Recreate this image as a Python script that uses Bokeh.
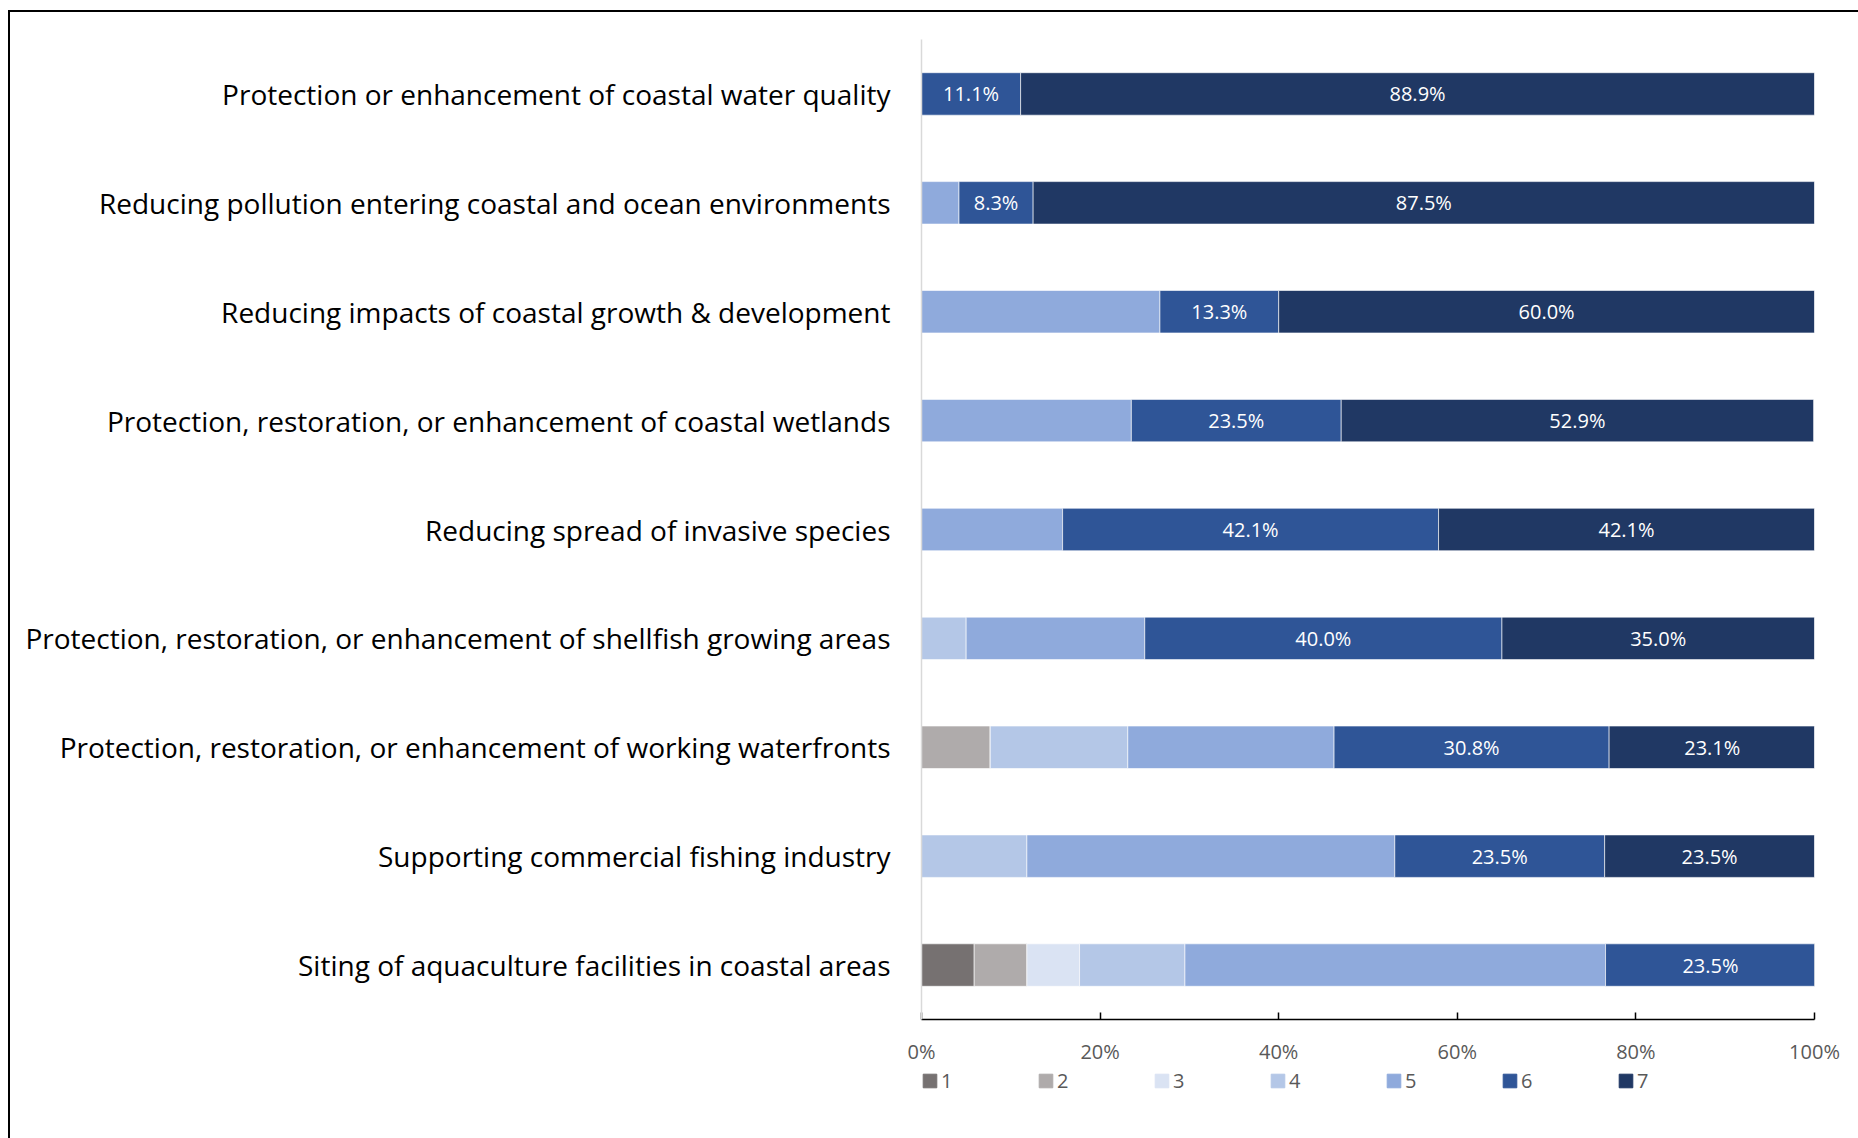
from bokeh.plotting import figure
from bokeh.layouts import column
from bokeh.models import (ColumnDataSource, FactorRange, Legend, LegendItem,
                          PrintfTickFormatter, FixedTicker, LabelSet)
from bokeh.core.properties import value
from bokeh.embed import file_html
from bokeh.resources import INLINE

categories = [
    "Protection or enhancement of coastal water quality",
    "Reducing pollution entering coastal and ocean environments",
    "Reducing impacts of coastal growth & development",
    "Protection, restoration, or enhancement of coastal wetlands",
    "Reducing spread of invasive species",
    "Protection, restoration, or enhancement of shellfish growing areas",
    "Protection, restoration, or enhancement of working waterfronts",
    "Supporting commercial fishing industry",
    "Siting of aquaculture facilities in coastal areas",
]
series_names = ["1", "2", "3", "4", "5", "6", "7"]
s1 = [0, 0, 0, 0, 0, 0, 0, 0, 5.9]
s2 = [0, 0, 0, 0, 0, 0, 7.7, 0, 5.9]
s3 = [0, 0, 0, 0, 0, 0, 0, 0, 5.9]
s4 = [0, 0, 0, 0, 0, 5.0, 15.4, 11.8, 11.8]
s5 = [0, 4.2, 26.7, 23.5, 15.8, 20.0, 23.1, 41.2, 47.1]
s6 = [11.1, 8.3, 13.3, 23.5, 42.1, 40.0, 30.8, 23.5, 23.5]
s7 = [88.9, 87.5, 60.0, 52.9, 42.1, 35.0, 23.1, 23.5, 0]
labelled_series = ["6", "7"]
x_ticks = [0, 20, 40, 60, 80, 100]

colors = ["#767171", "#AFABAB", "#DAE3F3", "#B4C7E7", "#8FAADC", "#2F5597", "#203864"]
FONT = "Open Sans"

data = {"cat": categories}
all_series = [s1, s2, s3, s4, s5, s6, s7]
for name, vals in zip(series_names, all_series):
    data["s" + name] = vals
src = ColumnDataSource(data)

p = figure(width=1848, height=1055, output_backend="svg", toolbar_location=None,
           y_range=FactorRange(factors=list(reversed(categories))),
           x_range=(0, 100),
           min_border_left=911, min_border_right=44, min_border_top=27, min_border_bottom=48)
p.outline_line_color = None
p.xgrid.grid_line_color = None
p.ygrid.grid_line_color = None

renderers = p.hbar_stack(["s" + n for n in series_names], y="cat", height=0.39,
                         color=colors, source=src, line_color="white", line_alpha=0.6,
                         line_width=1)

# data labels
lx, ly, lt = [], [], []
for ci, cat in enumerate(categories):
    left = 0
    for name, vals in zip(series_names, all_series):
        v = vals[ci]
        if name in labelled_series and v > 0:
            lx.append(left + v / 2)
            ly.append(cat)
            lt.append(f"{v:.1f}%")
        left += v
lsrc = ColumnDataSource(dict(x=lx, y=ly, t=lt))
p.add_layout(LabelSet(x="x", y="y", text="t", source=lsrc, text_align="center",
                      text_baseline="middle", text_color="white", text_font=value(FONT),
                      text_font_size="20px"))

# axes
p.xaxis.ticker = FixedTicker(ticks=x_ticks)
p.xaxis.formatter = PrintfTickFormatter(format="%d%%")
p.xaxis.axis_line_color = "#000000"
p.xaxis.axis_line_width = 1.5
p.xaxis.major_tick_line_color = "#000000"
p.xaxis.major_tick_line_width = 1.5
p.xaxis.major_tick_in = 7
p.xaxis.major_tick_out = 0
p.xaxis.minor_tick_line_color = None
p.xaxis.major_label_text_font = FONT
p.xaxis.major_label_text_font_size = "20px"
p.xaxis.major_label_text_color = "#595959"
p.xaxis.major_label_standoff = 18

p.yaxis.axis_line_color = "#D9D9D9"
p.yaxis.axis_line_width = 1.5
p.yaxis.major_tick_line_color = None
p.yaxis.minor_tick_line_color = None
p.yaxis.major_label_text_font = FONT
p.yaxis.major_label_text_font_size = "28px"
p.yaxis.major_label_text_color = "#000000"
p.yaxis.major_label_standoff = 25

# legend strip (separate small figure; zero-size swatch glyphs carry the series colours)
p2 = figure(width=1848, height=71, output_backend="svg", toolbar_location=None,
            x_axis_location=None, y_axis_location=None,
            x_range=(0, 1), y_range=(0, 1),
            min_border=0, min_border_left=891)
p2.outline_line_color = None
p2.xgrid.grid_line_color = None
p2.ygrid.grid_line_color = None
leg_renderers = [p2.hbar(y=[0], left=[0], right=[0], height=0, color=c) for c in colors]
legend = Legend(items=[LegendItem(label=n, renderers=[r]) for n, r in zip(series_names, leg_renderers)],
                orientation="horizontal", location="top_left",
                glyph_width=17, glyph_height=17, label_standoff=3, label_width=80,
                spacing=16, padding=0, margin=0,
                border_line_alpha=0, background_fill_alpha=0,
                label_text_font=FONT, label_text_font_size="20px",
                label_text_color="#595959")
p2.add_layout(legend, "center")

layout = column(p, p2, spacing=0, margin=(10, 0, 0, 8),
                styles={"border-left": "2px solid black", "border-top": "2px solid black"})

open("out.html", "w").write(file_html(layout, INLINE))
